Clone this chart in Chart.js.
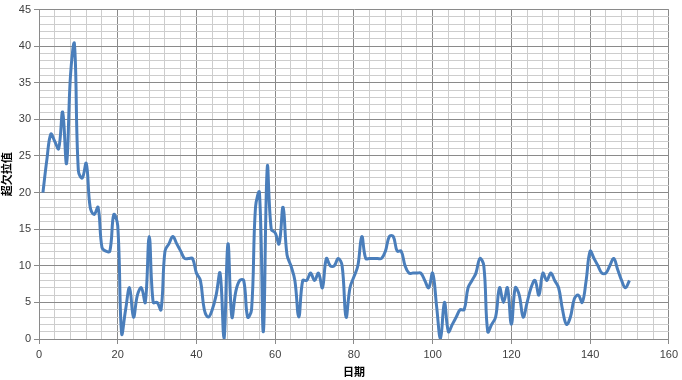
<!DOCTYPE html>
<html>
<head>
<meta charset="utf-8">
<script src="https://cdn.jsdelivr.net/npm/chart.js@4"></script>
<style>
  html, body { margin: 0; padding: 0; background: #fff; }
  canvas { display: block; }
</style>
</head>
<body>
<canvas id="overbreakChart" width="682" height="380"></canvas>
<script>
// 超欠拉值 per day
const values = [
    20, 24.5, 28, 27, 26, 31, 24, 36, 40.3, 23,
    22, 24, 18, 17, 18, 12.5, 12, 12, 17, 15.5,
    0.7, 4, 7, 3, 6, 7, 5, 14, 5, 5,
    4, 12, 13, 14, 13, 12, 11, 11, 11, 9,
    8, 4, 3, 4, 6, 9, 0, 13, 3, 6.5,
    8, 8, 3, 4, 18, 20, 1, 23.5, 15, 14.5,
    13, 18, 11.5, 10, 8, 3, 8, 8, 9, 8,
    9, 7, 11, 10, 10, 11, 10, 3, 7, 8.5,
    10, 14, 11, 11, 11, 11, 11, 12, 14, 14,
    12, 12, 10, 9, 9, 9, 9, 8, 7, 9,
    4.5, 0, 5, 1, 2, 3, 4, 4, 7, 8,
    9, 11, 10, 1, 2, 3, 7, 5, 7, 2,
    7, 6, 3, 5, 7, 8, 6, 9, 8, 9,
    8, 7, 4, 2, 3, 5.5, 6, 5, 8, 12,
    11, 10, 9, 9, 10, 11, 9.5, 8, 7, 8
];
const days = values.map((v, i) => i + 1);

const xTitle = '日期';
const yTitle = '超欠拉值';
const xMax = 160, xMajor = 20, xMinor = 4;
const yMax = 45, yMajor = 5, yMinor = 1;

const majorColor = '#8a8a8a';
const minorColor = '#cdcdcd';

const points = days.map((d, i) => ({ x: d, y: values[i] }));

new Chart(document.getElementById('overbreakChart'), {
    type: 'line',
    data: {
        datasets: [{
            data: points,
            borderColor: '#4a7ebb',
            borderWidth: 3,
            pointRadius: 0,
            tension: 0.4,
            fill: false
        }]
    },
    options: {
        responsive: false,
        animation: false,
        layout: { padding: { top: 7, right: 12, left: 0, bottom: 0 } },
        plugins: {
            legend: { display: false },
            tooltip: { enabled: false }
        },
        scales: {
            x: {
                type: 'linear',
                min: 0,
                max: xMax,
                afterFit: s => { s.height = 41; },
                border: { color: majorColor },
                grid: {
                    color: c => c.tick && c.tick.value % xMajor === 0 ? majorColor : minorColor,
                    tickColor: c => c.tick && c.tick.value % xMajor === 0 ? majorColor : 'rgba(0,0,0,0)',
                    tickLength: 5
                },
                ticks: {
                    stepSize: xMinor,
                    autoSkip: false,
                    maxRotation: 0,
                    padding: 4,
                    color: '#404040',
                    font: { family: 'Liberation Sans, Arial, sans-serif', size: 11 },
                    callback: v => v % xMajor === 0 ? String(v) : ''
                },
                title: {
                    display: true,
                    text: xTitle,
                    color: '#000',
                    padding: { top: 0, bottom: 2 },
                    font: { family: 'Noto Sans CJK SC, sans-serif', size: 11, weight: 'bold' }
                }
            },
            y: {
                min: 0,
                max: yMax,
                afterFit: s => { s.width = 39; },
                border: { color: majorColor },
                grid: {
                    color: c => c.tick && c.tick.value % yMajor === 0 ? majorColor : minorColor,
                    tickColor: c => c.tick && c.tick.value % yMajor === 0 ? majorColor : 'rgba(0,0,0,0)',
                    tickLength: 5
                },
                ticks: {
                    stepSize: yMinor,
                    autoSkip: false,
                    padding: 3,
                    color: '#404040',
                    font: { family: 'Liberation Sans, Arial, sans-serif', size: 11 },
                    callback: v => v % yMajor === 0 ? String(v) : ''
                },
                title: {
                    display: true,
                    text: yTitle,
                    color: '#000',
                    padding: { top: 0, bottom: 0 },
                    font: { family: 'Noto Sans CJK SC, sans-serif', size: 11, weight: 'bold' }
                }
            }
        }
    }
});
</script>
</body>
</html>
